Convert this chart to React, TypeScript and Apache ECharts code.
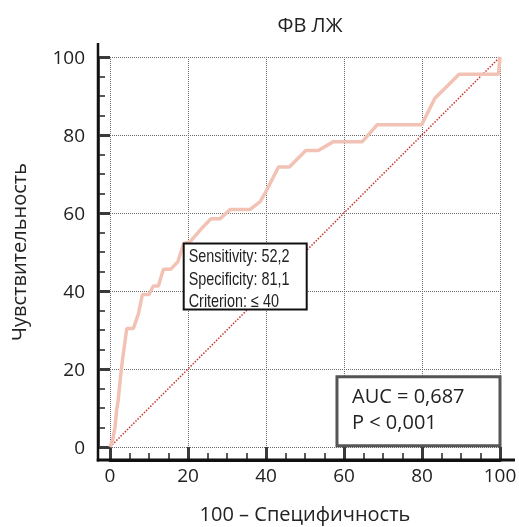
import React, { useEffect, useRef } from "react";
import * as echarts from "echarts";

// ROC curve: 100 - Specificity (x) vs Sensitivity (y)
const fpr = [0, 0.7, 1.3, 1.7, 2.1, 2.7, 3.2, 4.3, 6.0, 7.3, 8.3, 10.0, 11.1, 12.4, 13.7, 15.6, 17.4, 18.9, 20.5, 23.9, 25.9, 28.2, 30.8, 35.9, 38.5, 40.2, 43.2, 46.0, 50.2, 53.4, 57.3, 64.7, 68.5, 79.9, 83.3, 86.3, 89.5, 99.6, 100];
const tpr = [0, 1.8, 5.2, 9.5, 12.0, 18.0, 22.3, 30.4, 30.4, 34.2, 39.1, 39.1, 41.3, 41.3, 45.6, 45.6, 47.5, 52.2, 52.6, 56.5, 58.5, 58.5, 60.9, 60.9, 62.9, 65.9, 71.8, 71.8, 76.0, 76.0, 78.3, 78.3, 82.6, 82.6, 89.4, 92.4, 95.6, 95.6, 100];
const diagX = [0, 100];
const diagY = [0, 100];

const title = "ФВ ЛЖ";
const xName = "100 – Специфичность";
const yName = "Чувствительность";
const criterionPoint = [18.9, 52.2];
const criterionLines = ["Sensitivity: 52,2", "Specificity: 81,1", "Criterion: ≤ 40"];
const aucTopLeft = [58.2, 18.0];
const aucBottomRight = [100, 0.3];
const aucLines = ["AUC = 0,687", "P < 0,001"];

const W = 519;
const H = 527;
const GL = 110, GR = 19, GT = 57, GB = 80;
const AX_GAP_X = 13; // x axis line sits below plot
const AX_GAP_Y = 12; // y axis line sits left of plot
const FONT = "'Open Sans', 'Noto Sans', sans-serif";
const TEXTC = "#222";

export default function App() {
  const ref = useRef<HTMLDivElement>(null);
  useEffect(() => {
    if (!ref.current) return;
    const chart = echarts.init(ref.current, null, { renderer: "svg" });
    const base = { type: "value" as const, min: 0, max: 100, interval: 20 };
    const tickAxis = {
      ...base,
      axisTick: { show: true, inside: true, lineStyle: { color: "#3a3a3a", width: 3 } },
      minorTick: { show: true, splitNumber: 4, length: 7, lineStyle: { color: "#222", width: 1.5 } },
      splitLine: { show: false },
      axisLabel: { fontSize: 19, color: TEXTC, fontFamily: FONT },
      nameLocation: "middle" as const,
      nameTextStyle: { fontSize: 20, color: TEXTC, fontFamily: FONT },
    };
    const gridAxis = {
      ...base,
      axisLine: { show: false, onZero: false },
      axisTick: { show: false },
      axisLabel: { show: false },
      splitLine: { show: true, lineStyle: { type: "dotted" as const, color: "#6a6a6a", width: 1 } },
    };
    chart.setOption({
      animation: false,
      title: {
        text: title,
        left: (GL + W - GR) / 2,
        textAlign: "center",
        top: 9,
        textStyle: { fontSize: 20, fontWeight: "normal", color: TEXTC, fontFamily: FONT },
      },
      grid: { left: GL, right: GR, top: GT, bottom: GB, outerBoundsMode: "none" },
      xAxis: [
        {
          ...tickAxis,
          position: "bottom",
          offset: AX_GAP_X,
          axisLine: { show: true, onZero: false, lineStyle: { color: "#111", width: 3 } },
          axisTick: { ...tickAxis.axisTick, length: AX_GAP_X },
          axisLabel: { ...tickAxis.axisLabel, margin: 5 },
          name: xName,
          nameGap: 43,
        },
        { ...gridAxis, position: "top" },
      ],
      yAxis: [
        {
          ...tickAxis,
          position: "left",
          offset: AX_GAP_Y,
          axisLine: { show: true, onZero: false, lineStyle: { color: "#111", width: 2.5 } },
          axisTick: { ...tickAxis.axisTick, length: AX_GAP_Y },
          axisLabel: { ...tickAxis.axisLabel, margin: 13 },
          name: yName,
          nameGap: 70,
        },
        { ...gridAxis, position: "right" },
      ],
      series: [
        {
          type: "line",
          xAxisIndex: 1,
          yAxisIndex: 1,
          data: [[0, 0]],
          symbol: "none",
          lineStyle: { opacity: 0 },
          silent: true,
        },
        {
          type: "line",
          data: diagX.map((x, i) => [x, diagY[i]]),
          symbol: "none",
          lineStyle: { color: "#c8372d", width: 1.5, type: "dotted" },
          z: 2,
        },
        {
          type: "line",
          data: fpr.map((x, i) => [x, tpr[i]]),
          symbol: "none",
          smooth: false,
          lineStyle: { color: "#f2c2b5", width: 3.5 },
          z: 3,
        },
      ],
    });

    const p = chart.convertToPixel({ xAxisIndex: 0, yAxisIndex: 0 }, criterionPoint) as number[];
    const a0 = chart.convertToPixel({ xAxisIndex: 0, yAxisIndex: 0 }, aucTopLeft) as number[];
    const a1 = chart.convertToPixel({ xAxisIndex: 0, yAxisIndex: 0 }, aucBottomRight) as number[];
    const yAxisX = GL - AX_GAP_Y;
    const xAxisY = H - GB + AX_GAP_X;

    chart.setOption({
      graphic: [
        {
          type: "line",
          z: 50,
          shape: { x1: yAxisX, y1: 43, x2: yAxisX, y2: xAxisY + 1.5 },
          style: { stroke: "#111", lineWidth: 2.5 },
        },
        {
          type: "line",
          z: 50,
          shape: { x1: yAxisX - 1.25, y1: xAxisY, x2: 515, y2: xAxisY },
          style: { stroke: "#111", lineWidth: 3 },
        },
        {
          type: "rect",
          z: 60,
          shape: { x: p[0], y: p[1], width: 123, height: 66 },
          style: { fill: "#fff", stroke: "#111", lineWidth: 2 },
        },
        {
          type: "text",
          z: 61,
          x: p[0] + 5,
          y: p[1] + 1,
          scaleX: 0.8,
          style: {
            text: criterionLines.join("\n"),
            font: "18px 'Liberation Sans', Arial, sans-serif",
            fill: TEXTC,
            lineHeight: 22.5,
            verticalAlign: "top",
            align: "left",
          },
        },
        {
          type: "rect",
          z: 60,
          shape: { x: a0[0], y: a0[1], width: a1[0] - a0[0], height: a1[1] - a0[1] },
          style: { fill: "#fff", stroke: "#555", lineWidth: 3 },
        },
        {
          type: "text",
          z: 61,
          x: a0[0] + 15,
          y: a0[1] + 5,
          style: {
            text: aucLines.join("\n"),
            font: `20px ${FONT}`,
            fill: TEXTC,
            lineHeight: 26.7,
            verticalAlign: "top",
            align: "left",
          },
        },
      ],
    });
    return () => chart.dispose();
  }, []);
  return (
    <div
      ref={ref}
      style={{ position: "fixed", left: 0, top: 0, width: W, height: H }}
    />
  );
}
